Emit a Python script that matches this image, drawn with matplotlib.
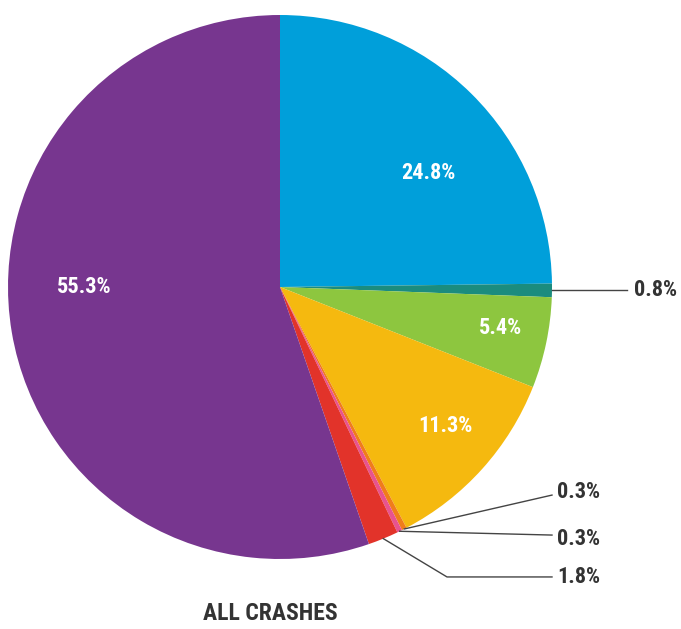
import numpy as np
import matplotlib
matplotlib.use('Agg')
import matplotlib.pyplot as plt

shares = [24.8, 0.8, 5.4, 11.3, 0.3, 0.3, 1.8, 55.3]
labels = ['24.8%', '0.8%', '5.4%', '11.3%', '0.3%', '0.3%', '1.8%', '55.3%']
colors = ['#009FDA', '#1B8C7E', '#8DC63F', '#F5B90F', '#F07D1A', '#E8538F', '#E2332A', '#77368F']
title = 'ALL CRASHES'

plt.rcParams['font.family'] = ['Roboto Condensed', 'Liberation Sans Narrow', 'Roboto', 'DejaVu Sans']

fig = plt.figure(figsize=(6.81, 6.29), dpi=100)
ax = fig.add_axes([8 / 681, 70 / 629, 544 / 681, 544 / 629])
ax.pie(shares, colors=colors, startangle=90, counterclock=False,
       wedgeprops=dict(linewidth=0))
ax.set_xlim(-1, 1)
ax.set_ylim(-1, 1)
ax.set_aspect('equal')
ax.axis('off')

# labels inside the big slices
inside = {0: (0.544, 0.419), 2: (0.81, -0.15), 3: (0.61, -0.51), 7: (-0.72, 0.0)}
for i, (x, y) in inside.items():
    ax.text(x, y, labels[i], color='white', fontsize=16, fontweight='bold',
            ha='center', va='center')

# mid angles of each wedge
cum = np.cumsum([0] + shares)
mids = [np.deg2rad(90 - 3.6 * (cum[i] + shares[i] / 2)) for i in range(len(shares))]

# small slices: leader lines (elbow point, end point, text y)
outside = {
    1: [(1.276, None)],
    4: [(1.0, -0.765)],
    5: [(1.0, -0.912)],
    6: [(0.614, -1.066), (1.0, -1.066)],
}
text_pos = {1: (1.30, None), 4: (1.02, -0.754), 5: (1.02, -0.926), 6: (1.02, -1.066)}
for i, pts in outside.items():
    x0, y0 = np.cos(mids[i]), np.sin(mids[i])
    xs, ys = [x0], [y0]
    for px, py in pts:
        xs.append(px)
        ys.append(y0 if py is None else py)
    ax.plot(xs, ys, color='#444444', lw=1, clip_on=False)
    tx, ty = text_pos[i]
    ax.text(tx, y0 if ty is None else ty, labels[i], color='#333333', fontsize=16,
            fontweight='bold', ha='left', va='center', clip_on=False)

fig.text(270 / 681, 1 - 613 / 629, title, color='#333333', fontsize=17,
         fontweight='bold', ha='center', va='center')

fig.savefig('out.png', dpi=100)
